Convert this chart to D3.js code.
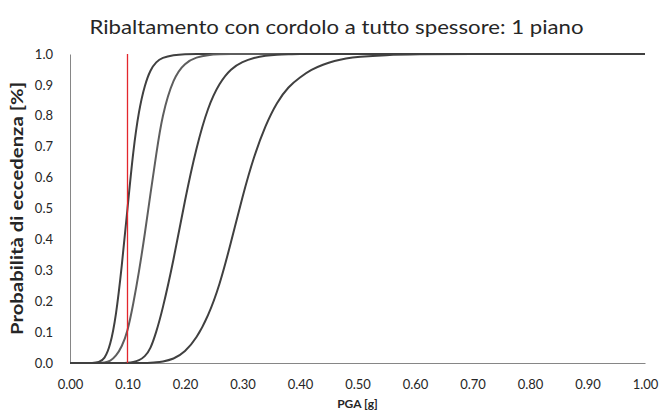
<!DOCTYPE html>
<html>
<head>
<meta charset="utf-8">
<script src="https://cdn.jsdelivr.net/npm/d3@7"></script>
<style>
  body { margin: 0; background: #fff; }
  svg { display: block; font-family: Lato, "Open Sans", sans-serif; }
</style>
</head>
<body>
<svg id="chart" width="662" height="412"></svg>
<script>
// PGA values [g] read along the x axis
const pga = [0, 0.02, 0.04, 0.05, 0.06, 0.07, 0.08, 0.09, 0.10, 0.11, 0.12, 0.13, 0.14, 0.15, 0.16,
  0.18, 0.20, 0.22, 0.24, 0.26, 0.28, 0.30, 0.32, 0.34, 0.36, 0.38, 0.40,
  0.42, 0.44, 0.46, 0.48, 0.50, 0.55, 0.60, 0.70, 0.80, 0.90, 1.00];

// exceedance probability of each curve, left to right
const curve1 = [0, 0, 0, 0.002, 0.012, 0.055, 0.15, 0.31, 0.50, 0.69, 0.82, 0.90, 0.95, 0.975, 0.988,
  0.997, 1, 1, 1, 1, 1, 1, 1, 1, 1, 1, 1,
  1, 1, 1, 1, 1, 1, 1, 1, 1, 1, 1];
const curve2 = [0, 0, 0, 0, 0.001, 0.006, 0.022, 0.052, 0.10, 0.19, 0.295, 0.415, 0.55, 0.675, 0.80,
  0.925, 0.972, 0.99, 0.997, 0.999, 1, 1, 1, 1, 1, 1, 1,
  1, 1, 1, 1, 1, 1, 1, 1, 1, 1, 1];
const curve3 = [0, 0, 0, 0, 0, 0, 0, 0, 0.001, 0.003, 0.008, 0.02, 0.045, 0.10, 0.165,
  0.33, 0.53, 0.70, 0.83, 0.907, 0.953, 0.975, 0.988, 0.995, 0.998, 0.999, 1,
  1, 1, 1, 1, 1, 1, 1, 1, 1, 1, 1];
const curve4 = [0, 0, 0, 0, 0, 0, 0, 0, 0, 0, 0, 0, 0.001, 0.002, 0.004,
  0.012, 0.035, 0.08, 0.15, 0.25, 0.39, 0.54, 0.67, 0.77, 0.845, 0.895, 0.925,
  0.95, 0.966, 0.978, 0.986, 0.991, 0.997, 0.999, 1, 1, 1, 1];

// red reference line at PGA = 0.10 g
const refX = [0.10, 0.10];
const refY = [0, 1];

const xTicks = [0, 0.1, 0.2, 0.3, 0.4, 0.5, 0.6, 0.7, 0.8, 0.9, 1.0];
const yTicks = [0, 0.1, 0.2, 0.3, 0.4, 0.5, 0.6, 0.7, 0.8, 0.9, 1.0];

const svg = d3.select('#chart');
const plotLeft = 70, plotRight = 645, plotTop = 54, plotBottom = 363;

const x = d3.scaleLinear().domain([0, 1]).range([plotLeft, plotRight]);
const y = d3.scaleLinear().domain([0, 1]).range([plotBottom, plotTop]);

// title
svg.append('text')
  .attr('x', 336.5).attr('y', 34)
  .attr('text-anchor', 'middle')
  .attr('font-size', 20)
  .attr('fill', '#262626')
  .attr('textLength', 494).attr('lengthAdjust', 'spacingAndGlyphs')
  .text('Ribaltamento con cordolo a tutto spessore: 1 piano');

// axes
const xAxis = svg.append('g')
  .attr('transform', `translate(0,${plotBottom})`)
  .call(d3.axisBottom(x).tickValues(xTicks).tickFormat(d3.format('.2f')).tickSize(0).tickPadding(17));
const yAxis = svg.append('g')
  .attr('transform', `translate(${plotLeft},0)`)
  .call(d3.axisLeft(y).tickValues(yTicks).tickFormat(d3.format('.1f')).tickSize(0).tickPadding(17));

[xAxis, yAxis].forEach(g => {
  g.select('.domain').attr('stroke', '#868686').attr('stroke-width', 1);
  g.selectAll('text').attr('font-family', 'Lato, sans-serif').attr('font-size', 13).attr('fill', '#262626');
});

// axis titles
svg.append('text')
  .attr('x', (plotLeft + plotRight) / 2).attr('y', 408)
  .attr('text-anchor', 'middle')
  .attr('font-size', 12).attr('font-weight', 'bold')
  .attr('fill', '#262626')
  .text('PGA [g]');

svg.append('text')
  .attr('transform', `translate(23,${(plotTop + plotBottom) / 2}) rotate(-90)`)
  .attr('text-anchor', 'middle')
  .attr('font-size', 17).attr('font-weight', 'bold')
  .attr('fill', '#262626')
  .attr('textLength', 253).attr('lengthAdjust', 'spacingAndGlyphs')
  .text('Probabilità di eccedenza [%]');

// fragility curves (smoothed like the spreadsheet lines)
const line = d3.line()
  .x(d => x(d[0]))
  .y(d => y(d[1]))
  .curve(d3.curveBasis);

const series = [
  { values: curve1, color: '#404040' },
  { values: curve2, color: '#5e5e5e' },
  { values: curve3, color: '#404040' },
  { values: curve4, color: '#404040' }
];

svg.append('g').selectAll('path')
  .data(series)
  .join('path')
  .attr('d', s => line(pga.map((v, i) => [v, s.values[i]])))
  .attr('fill', 'none')
  .attr('stroke', s => s.color)
  .attr('stroke-width', 2);

svg.append('path')
  .attr('d', d3.line().x(d => x(d[0])).y(d => y(d[1]))(refX.map((v, i) => [v, refY[i]])))
  .attr('fill', 'none')
  .attr('stroke', '#e3262c')
  .attr('stroke-width', 1.3);
</script>
</body>
</html>
